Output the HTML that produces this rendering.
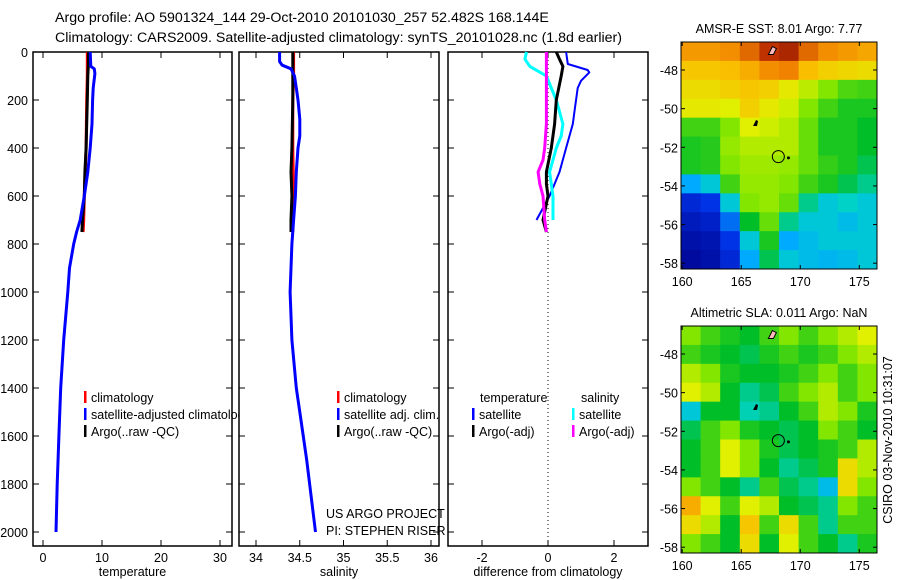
<!DOCTYPE html>
<html><head><meta charset="utf-8"><style>
body{margin:0;background:#fff;}
svg{display:block;font-family:"Liberation Sans",sans-serif;}
</style></head><body>
<svg id="c" width="900" height="580" xmlns="http://www.w3.org/2000/svg">
<defs><clipPath id="clip1"><rect x="0" y="380" width="239" height="80"/></clipPath></defs>
<text x="55" y="22" font-size="14.2">Argo profile: AO 5901324_144 29-Oct-2010 20101030_257 52.482S 168.144E</text>
<text x="55" y="42" font-size="14.2">Climatology: CARS2009. Satellite-adjusted climatology: synTS_20101028.nc (1.8d earlier)</text>
</svg>
<script>
// ---- data ----
const depthTicks=[0,200,400,600,800,1000,1200,1400,1600,1800,2000];
const tempTicks=[0,10,20,30];
const salTicks=[34,34.5,35,35.5,36];
const diffTicks=[-2,0,2];
const tClimDepth=[0,100,200,400,600,700,750];
const tClimVal=[7.5,7.5,7.4,7.3,7.0,6.9,6.8];
const tArgoDepth=[0,50,100,200,400,500,600,700,750];
const tArgoVal=[7.7,7.7,7.6,7.5,7.3,7.1,7.0,6.7,6.6];
const tSatDepth=[0,60,70,90,150,200,300,400,500,600,700,750,800,900,1000,1200,1400,1600,1800,2000];
const tSatVal=[8.0,8.1,8.7,8.8,8.5,8.4,8.3,8.0,7.6,7.0,6.3,5.7,5.2,4.5,4.2,3.5,3.0,2.7,2.4,2.2];
const sClimDepth=[0,100,200,400,600,750];
const sClimVal=[34.43,34.43,34.42,34.42,34.43,34.42];
const sArgoDepth=[0,100,200,400,500,600,700,750];
const sArgoVal=[34.42,34.42,34.42,34.41,34.4,34.41,34.4,34.4];
const sSatDepth=[0,40,55,70,100,150,200,280,350,400,500,600,700,800,900,1000,1200,1400,1500,1700,1850,2000];
const sSatVal=[34.27,34.27,34.3,34.4,34.44,34.46,34.48,34.5,34.5,34.48,34.46,34.45,34.43,34.41,34.4,34.39,34.41,34.46,34.5,34.58,34.63,34.68];
const dTSatDepth=[0,50,75,85,120,150,250,300,400,500,600,650,700];
const dTSatVal=[0.55,0.6,1.2,1.25,1.0,0.9,0.8,0.75,0.55,0.35,0.05,-0.15,-0.35];
const dSSatDepth=[0,30,60,80,100,150,200,300,350,400,500,600,700];
const dSSatVal=[-0.65,-0.7,-0.55,-0.3,-0.05,0.1,0.25,0.45,0.4,0.25,0.05,0.15,0.15];
const dTArgoDepth=[0,30,60,100,200,300,400,500,550,600,700,750];
const dTArgoVal=[0.25,0.35,0.45,0.4,0.25,0.2,0.1,-0.05,-0.05,0.0,-0.15,-0.05];
const dSArgoDepth=[0,100,200,300,400,450,500,550,600,700,750];
const dSArgoVal=[-0.05,-0.05,-0.05,-0.05,-0.1,-0.15,-0.3,-0.25,-0.15,-0.1,-0.05];
const latTicks=[48,50,52,54,56,58];
const lonTicks=[160,165,170,175];
const sstGrid=[
[0.78,0.78,0.8,0.85,0.92,0.95,0.85,0.8,0.78,0.76],
[0.7,0.7,0.72,0.75,0.8,0.82,0.72,0.68,0.66,0.65],
[0.65,0.65,0.68,0.7,0.68,0.62,0.56,0.5,0.46,0.45],
[0.62,0.62,0.6,0.68,0.62,0.58,0.5,0.45,0.42,0.42],
[0.45,0.45,0.5,0.6,0.58,0.55,0.48,0.42,0.42,0.4],
[0.42,0.43,0.52,0.55,0.55,0.55,0.48,0.42,0.42,0.4],
[0.42,0.43,0.5,0.53,0.53,0.52,0.48,0.44,0.42,0.38],
[0.25,0.3,0.45,0.52,0.52,0.5,0.45,0.42,0.38,0.35],
[0.12,0.15,0.3,0.5,0.52,0.48,0.35,0.3,0.32,0.3],
[0.08,0.1,0.2,0.4,0.48,0.35,0.3,0.3,0.28,0.3],
[0.05,0.06,0.15,0.3,0.42,0.25,0.28,0.3,0.3,0.3],
[0.03,0.05,0.12,0.25,0.38,0.3,0.28,0.27,0.28,0.3]];
const slaGrid=[
[0.5,0.45,0.42,0.4,0.45,0.5,0.45,0.5,0.55,0.6],
[0.45,0.42,0.4,0.38,0.42,0.45,0.42,0.45,0.5,0.55],
[0.55,0.5,0.42,0.4,0.4,0.42,0.45,0.5,0.45,0.5],
[0.6,0.55,0.4,0.35,0.38,0.45,0.5,0.55,0.45,0.5],
[0.3,0.4,0.4,0.33,0.35,0.4,0.45,0.55,0.5,0.42],
[0.38,0.45,0.5,0.42,0.4,0.38,0.4,0.5,0.45,0.4],
[0.4,0.45,0.6,0.5,0.42,0.38,0.4,0.42,0.45,0.55],
[0.4,0.45,0.6,0.5,0.4,0.35,0.38,0.42,0.65,0.55],
[0.5,0.45,0.4,0.35,0.45,0.38,0.35,0.28,0.65,0.5],
[0.75,0.6,0.45,0.6,0.55,0.4,0.38,0.35,0.5,0.45],
[0.65,0.55,0.4,0.7,0.45,0.65,0.45,0.35,0.45,0.45],
[0.5,0.45,0.4,0.65,0.4,0.6,0.45,0.4,0.35,0.42]];
const floatLon=168.144, floatLat=52.482;

// ---- drawing ----
const svg=document.getElementById('c');
const NS='http://www.w3.org/2000/svg';
function mk(tag,attrs,parent){const e=document.createElementNS(NS,tag);for(const k in attrs)e.setAttribute(k,attrs[k]);(parent||svg).appendChild(e);return e;}
const Y0=52, YPX=0.24; const yD=d=>Y0+d*YPX;
const PTOP=52, PBOT=546;
const panels=[
 {name:'temperature',l:33,r:232,x:v=>43+v*5.9,ticks:tempTicks,label:'temperature'},
 {name:'salinity',l:239,r:439,x:v=>256+(v-34)*87.5,ticks:salTicks,label:'salinity'},
 {name:'difference',l:448,r:648,x:v=>548+v*33,ticks:diffTicks,label:'difference from climatology'}];
panels.forEach((p,i)=>{
  const g=mk('g',{});
  
  
  mk('rect',{x:p.l,y:PTOP,width:p.r-p.l,height:PBOT-PTOP,fill:'none',stroke:'#000','stroke-width':1.5},g);
  depthTicks.forEach(d=>{
    mk('line',{x1:p.l,x2:p.l+6,y1:yD(d),y2:yD(d),stroke:'#000'},g);
    mk('line',{x1:p.r,x2:p.r-6,y1:yD(d),y2:yD(d),stroke:'#000'},g);
    if(i===0){const t=mk('text',{x:28,y:yD(d)+5,'font-size':12.5,'text-anchor':'end'},g);t.textContent=d;
      }
  });
  p.ticks.forEach(v=>{
    const x=p.x(v);
    mk('line',{x1:x,x2:x,y1:PTOP,y2:PTOP+6,stroke:'#000'},g);
    mk('line',{x1:x,x2:x,y1:PBOT,y2:PBOT-6,stroke:'#000'},g);
    const t=mk('text',{x:x,y:PBOT+16,'font-size':12.5,'text-anchor':'middle'},g);t.textContent=v;
    
  });
  const t=mk('text',{x:(p.l+p.r)/2,y:576,'font-size':12.5,'text-anchor':'middle'},g);t.textContent=p.label;
  
});
function line(p,depths,vals,color,w,name){
  const pts=depths.map((d,i)=>p.x(vals[i]).toFixed(1)+','+yD(d).toFixed(1)).join(' ');
  const e=mk('polyline',{points:pts,fill:'none',stroke:color,'stroke-width':w,'stroke-linejoin':'round'});
  
  
}
mk('line',{x1:548,x2:548,y1:PTOP,y2:PBOT,stroke:'#000','stroke-dasharray':'1,3'});
line(panels[0],tClimDepth,tClimVal,'#f00',3,'temp-climatology-line');
line(panels[0],tArgoDepth,tArgoVal,'#000',3,'temp-argo-line');
line(panels[0],tSatDepth,tSatVal,'#00f',3,'temp-satellite-line');
line(panels[1],sClimDepth,sClimVal,'#f00',3,'sal-climatology-line');
line(panels[1],sArgoDepth,sArgoVal,'#000',3,'sal-argo-line');
line(panels[1],sSatDepth,sSatVal,'#00f',3,'sal-satellite-line');
line(panels[2],dTSatDepth,dTSatVal,'#00f',2,'diff-temp-satellite-line');
line(panels[2],dSSatDepth,dSSatVal,'#0ff',3,'diff-sal-satellite-line');
line(panels[2],dTArgoDepth,dTArgoVal,'#000',3,'diff-temp-argo-line');
line(panels[2],dSArgoDepth,dSArgoVal,'#f0f',3,'diff-sal-argo-line');
function leg(x,y,color,text,name,clip){
  if(color)mk('rect',{x:x,y:y-11,width:2.5,height:12,fill:color});
  const t=mk('text',{x:x+(color?7:0),y:y,'font-size':12.5});t.textContent=text;
  if(clip)t.setAttribute('clip-path','url(#clip1)');
  
}
leg(84,402,'#f00','climatology','legend-climatology');
leg(84,419,'#00f','satellite-adjusted climatology','legend-satellite-adjusted',true);
leg(84,436,'#000','Argo(..raw -QC)','legend-argo');
leg(337,402,'#f00','climatology','legend-sal-climatology');
leg(337,419,'#00f','satellite adj. clim.','legend-sal-satellite');
leg(337,436,'#000','Argo(..raw -QC)','legend-sal-argo');
leg(480,402,null,'temperature','legend-temperature-header');
leg(472,419,'#00f','satellite','legend-diff-temp-satellite');
leg(472,436,'#000','Argo(-adj)','legend-diff-temp-argo');
leg(581,402,null,'salinity','legend-salinity-header');
leg(572,419,'#0ff','satellite','legend-diff-sal-satellite');
leg(572,436,'#f0f','Argo(-adj)','legend-diff-sal-argo');
leg(326,518,null,'US ARGO PROJECT','project-label');
leg(326,535,null,'PI: STEPHEN RISER','pi-label');
// colormap (reference palette)
const cmStops=[[0,[0,0,140]],[0.15,[0,50,230]],[0.25,[0,170,255]],[0.32,[0,210,200]],[0.4,[0,190,40]],[0.5,[130,230,0]],[0.6,[225,240,0]],[0.72,[250,190,0]],[0.82,[240,130,0]],[0.92,[190,50,0]],[1,[140,20,0]]];
function cmap(v){v=Math.max(0,Math.min(1,v));
  for(let i=1;i<cmStops.length;i++){if(v<=cmStops[i][0]){const a=cmStops[i-1],b=cmStops[i],f=(v-a[0])/(b[0]-a[0]);
    const c=a[1].map((x,k)=>Math.round(x+(b[1][k]-x)*f));return `rgb(${c[0]},${c[1]},${c[2]})`;}}
  return 'rgb(140,20,0)';}
function map(top,bot,grid,title,name){
  const L=681,R=877,lon0=159.9,lon1=176.5,lat0=46.55,lat1=58.3;
  const xL=lo=>L+(lo-lon0)/(lon1-lon0)*(R-L);
  const yL=la=>top+(la-lat0)/(lat1-lat0)*(bot-top);
  const g=mk('g',{});
  
  
  const nr=grid.length,nc=grid[0].length;
  const dlon=(lon1-lon0)/nc,dlat=(lat1-lat0)/nr;
  grid.forEach((row,r)=>row.forEach((v,c)=>{
    const x=xL(lon0+c*dlon),y=yL(lat0+r*dlat);
    const e=mk('rect',{x:x,y:y,width:xL(lon0+(c+1)*dlon)-x+0.5,height:yL(lat0+(r+1)*dlat)-y+0.5,fill:cmap(v)},g);
    
    
  }));
  mk('rect',{x:L,y:top,width:R-L,height:bot-top,fill:'none',stroke:'#000'},g);
  latTicks.forEach(la=>{const y=yL(la);
    mk('line',{x1:L,x2:L+4,y1:y,y2:y,stroke:'#000'},g);mk('line',{x1:R,x2:R-4,y1:y,y2:y,stroke:'#000'},g);
    const t=mk('text',{x:L-3,y:y+5,'font-size':12.5,'text-anchor':'end'},g);t.textContent='-'+la;
    });
  lonTicks.forEach(lo=>{const x=xL(lo);
    mk('line',{x1:x,x2:x,y1:top,y2:top+4,stroke:'#000'},g);mk('line',{x1:x,x2:x,y1:bot,y2:bot-4,stroke:'#000'},g);
    const t=mk('text',{x:x,y:bot+17,'font-size':12.5,'text-anchor':'middle'},g);t.textContent=lo;
    });
  mk('path',{d:`M${xL(166)} ${yL(50.9)} l3 -6 l2 1 l-1 5 z`,fill:'#000'},g);
  mk('path',{d:`M${xL(167.3)} ${yL(47.2)} l4 -8 l4 2 l-3 6 z`,fill:'#fbb',stroke:'#000'},g);
  mk('circle',{cx:xL(169),cy:yL(52.55),r:1.5,fill:'#000'},g);
  const m=mk('circle',{cx:xL(floatLon),cy:yL(floatLat),r:6,fill:'none',stroke:'#000'},g);
  
  const t=mk('text',{x:(L+R)/2,y:top-9,'font-size':12.5,'text-anchor':'middle'},g);t.textContent=title;
  
}
map(42,269,sstGrid,'AMSR-E SST: 8.01  Argo: 7.77','sst-map');
map(326,553,slaGrid,'Altimetric SLA: 0.011  Argo: NaN','sla-map');
const cs=mk('text',{x:0,y:0,'font-size':12.5,'text-anchor':'middle',transform:'translate(892,440) rotate(-90)'});
cs.textContent='CSIRO 03-Nov-2010 10:31:07';

</script>
</body></html>
